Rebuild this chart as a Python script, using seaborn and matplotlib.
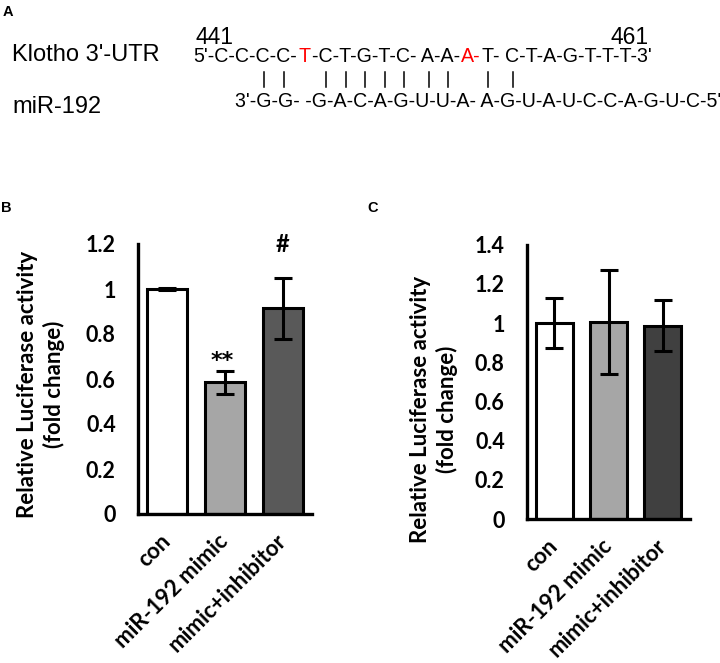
import matplotlib
matplotlib.use("Agg")
import matplotlib.pyplot as plt
import seaborn as sns
import pandas as pd

# values
groups = ["con", "miR-192 mimic", "mimic+inhibitor"]
b_means = [1.0, 0.585, 0.915]
b_errs = [0.005, 0.05, 0.135]
b_marks = ["", "**", "#"]
c_means = [1.0, 1.005, 0.985]
c_errs = [0.13, 0.265, 0.13]
c_marks = ["", "", ""]
b_colors = ["#FFFFFF", "#A6A6A6", "#595959"]
c_colors = ["#FFFFFF", "#A6A6A6", "#404040"]

# sequence alignment for panel A (pieces of the UTR strand, red = mismatch)
utr_pieces = [("5'-C-C-C-C-", "black"), ("T", "red"), ("-C-T-G-T-C- A-A-", "black"),
              ("A-", "red"), ("T- C-T-A-G-T-T-T-3'", "black")]
mir_pieces = [("3'-G-G- -G-A-C-A-G-U-U-A- A-G-U-A-U-C-C-A-G-U-C-5'", "black")]
paired = [2, 3, 5, 6, 7, 8, 9, 10, 11, 13, 14]  # UTR nucleotides with a pairing bar

FONT = "Lato"
SEQ_FONT = "Liberation Sans"
SEQ_SIZE = 14.1

fig = plt.figure(figsize=(7.2, 6.63), dpi=100)

# pixel-space overlay for panel A and the panel letters
top = fig.add_axes([0, 0, 1, 1])
top.set_xlim(0, 720)
top.set_ylim(663, 0)
top.axis("off")
top.set_zorder(-1)

for letter, x, y in [("A", 3, 12), ("B", 1, 208), ("C", 367, 208)]:
    top.text(x, y, letter, fontsize=10.5, fontweight="bold", family="Liberation Sans",
             ha="left", va="center")

top.text(12, 61, "Klotho 3'-UTR", fontsize=17, family=SEQ_FONT, ha="left", va="baseline")
top.text(12, 113, "miR-192", fontsize=17, family=SEQ_FONT, ha="left", va="baseline")
top.text(195, 44, "441", fontsize=16.5, family=SEQ_FONT, ha="left", va="baseline")
top.text(649, 44, "461", fontsize=16.5, family=SEQ_FONT, ha="right", va="baseline")


def draw_seq(x, y, pieces):
    texts = []
    prev = None
    for s, color in pieces:
        if prev is None:
            t = top.text(x, y, s, color=color, fontsize=SEQ_SIZE, family=SEQ_FONT,
                         ha="left", va="bottom")
        else:
            t = top.annotate(s, xy=(1, 0), xycoords=prev, xytext=(1, 0),
                             textcoords="offset points", color=color, fontsize=SEQ_SIZE,
                             family=SEQ_FONT, ha="left", va="bottom")
        texts.append(t)
        prev = t
    return texts


utr_texts = draw_seq(193, 66, utr_pieces)
mir_texts = draw_seq(235, 111, mir_pieces)


def style_bars(ax, means, errs, colors, marks, ymax, step):
    df = pd.DataFrame({"group": groups, "value": means})
    sns.barplot(data=df, x="group", y="value", hue="group", palette=colors,
                legend=False, edgecolor="black", linewidth=2.2, width=0.68,
                errorbar=None, ax=ax)
    xs = [p.get_x() + p.get_width() / 2 for p in ax.patches]
    ax.errorbar(xs, means, yerr=errs, fmt="none", ecolor="black", elinewidth=2.2,
                capsize=6.5, capthick=2.2)
    for x, m, e, mark in zip(xs, means, errs, marks):
        if mark == "**":
            ax.annotate(mark, xy=(x, m + e), xytext=(-2, 0), textcoords="offset points",
                        ha="center", va="bottom", fontsize=16, fontweight="bold",
                        family="DejaVu Sans")
        elif mark:
            ax.annotate(mark, xy=(x, m + e), xytext=(0, 16), textcoords="offset points",
                        ha="center", va="bottom", fontsize=17, fontweight="bold",
                        family=FONT)
    ax.set_xlim(-0.5, 2.5)
    ax.set_ylim(0, ymax)
    ticks = [round(i * step, 1) for i in range(int(round(ymax / step)) + 1)]
    ax.set_yticks(ticks)
    ax.set_yticklabels([f"{t:g}" for t in ticks], fontsize=15.5, fontweight="bold",
                       family=FONT)
    ax.set_xticks(range(len(groups)))
    ax.set_xticklabels(groups, rotation=45, ha="right", va="center",
                       rotation_mode="anchor", fontsize=16, fontweight="bold",
                       family=FONT)
    ax.tick_params(axis="y", length=0, pad=16)
    ax.tick_params(axis="x", length=0, pad=17)
    for side in ["top", "right"]:
        ax.spines[side].set_visible(False)
    for side in ["left", "bottom"]:
        ax.spines[side].set_linewidth(2.4)
    ax.set_xlabel("")
    ax.set_ylabel("Relative Luciferase activity\n(fold change)", fontsize=16,
                  fontweight="bold", family=FONT, va="center", linespacing=1.3)
    ax.set_facecolor("none")


ax_b = fig.add_axes([138 / 720, 1 - 514 / 663, 174 / 720, 270 / 663])
style_bars(ax_b, b_means, b_errs, b_colors, b_marks, 1.2, 0.2)
ax_b.yaxis.set_label_coords(-0.557, 0.48)

ax_c = fig.add_axes([527 / 720, 1 - 519 / 663, 163 / 720, 274.4 / 663])
style_bars(ax_c, c_means, c_errs, c_colors, c_marks, 1.4, 0.2)
ax_c.yaxis.set_label_coords(-0.571, 0.40)

# pairing bars between the strands, under the matching UTR letters
fig.canvas.draw()
renderer = fig.canvas.get_renderer()
inv = top.transData.inverted()
count = 0
for t, (s, _) in zip(utr_texts, utr_pieces):
    bb = t.get_window_extent(renderer)
    prop = t.get_fontproperties()
    for i, ch in enumerate(s):
        if ch in "ACGTU":
            if count in paired:
                w0 = renderer.get_text_width_height_descent(s[:i], prop, ismath=False)[0] if i else 0
                w1 = renderer.get_text_width_height_descent(s[:i + 1], prop, ismath=False)[0]
                xd = bb.x0 + (w0 + w1) / 2 + (1 if i else 0)
                xp = inv.transform((xd, 0))[0]
                top.plot([xp, xp], [72, 87], color="black", lw=1.1)
            count += 1

fig.savefig("out.png", dpi=100)
